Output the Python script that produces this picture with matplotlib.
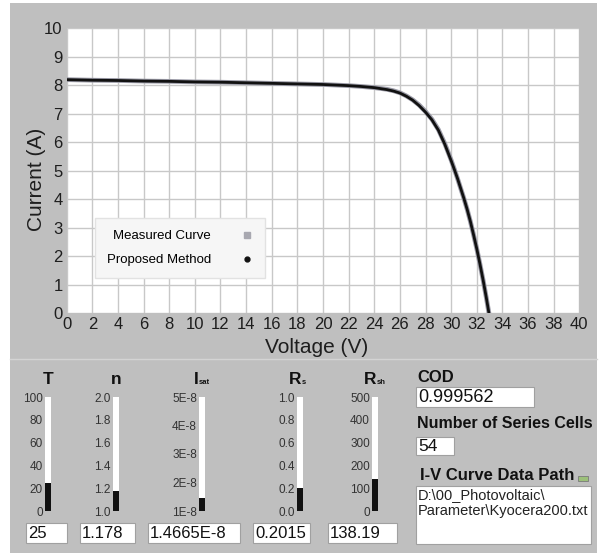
import matplotlib
matplotlib.use("Agg")
import matplotlib.pyplot as plt
from matplotlib.patches import Rectangle
from matplotlib.lines import Line2D

plt.rcParams['font.family'] = ['Liberation Sans', 'DejaVu Sans']

# I-V curve
voltage = [0, 2, 4, 6, 8, 10, 12, 14, 16, 18, 20, 22, 23, 24, 25, 25.5, 26, 26.5,
           27, 27.5, 28, 28.5, 29, 29.5, 30, 30.25, 30.5, 30.75, 31, 31.25, 31.5,
           31.75, 32, 32.25, 32.5, 32.75, 32.95]
measured_current = [8.19, 8.17, 8.16, 8.14, 8.13, 8.11, 8.10, 8.08, 8.06, 8.04, 8.02,
                    7.98, 7.95, 7.91, 7.85, 7.80, 7.73, 7.62, 7.48, 7.30, 7.07, 6.80,
                    6.44, 5.95, 5.37, 5.05, 4.72, 4.37, 4.02, 3.64, 3.22, 2.75, 2.26,
                    1.72, 1.15, 0.53, 0.0]
proposed_current = [8.19, 8.17, 8.16, 8.14, 8.13, 8.11, 8.10, 8.08, 8.06, 8.04, 8.02,
                    7.98, 7.95, 7.91, 7.84, 7.79, 7.72, 7.61, 7.47, 7.28, 7.05, 6.78,
                    6.42, 5.93, 5.35, 5.04, 4.72, 4.37, 4.02, 3.64, 3.22, 2.75, 2.26,
                    1.72, 1.15, 0.53, 0.0]

# extracted parameters shown on the gauges
gauge_names = [('T', ''), ('n', ''), ('I', 'sat'), ('R', 's'), ('R', 'sh')]
gauge_values = [25, 1.178, 1.4665e-8, 0.2015, 138.19]
gauge_texts = ['25', '1.178', '1.4665E-8', '0.2015', '138.19']
gauge_ticks = [[0, 20, 40, 60, 80, 100],
               [1.0, 1.2, 1.4, 1.6, 1.8, 2.0],
               [1e-8, 2e-8, 3e-8, 4e-8, 5e-8],
               [0.0, 0.2, 0.4, 0.6, 0.8, 1.0],
               [0, 100, 200, 300, 400, 500]]
gauge_ticklabels = [['0', '20', '40', '60', '80', '100'],
                    ['1.0', '1.2', '1.4', '1.6', '1.8', '2.0'],
                    ['1E-8', '2E-8', '3E-8', '4E-8', '5E-8'],
                    ['0.0', '0.2', '0.4', '0.6', '0.8', '1.0'],
                    ['0', '100', '200', '300', '400', '500']]
cod_value = '0.999562'
series_cells = '54'
data_path = ['D:\\00_Photovoltaic\\', 'Parameter\\Kyocera200.txt']

W, H = 601, 554
BG = '#bfbfbf'


def fig_box(x0, y0, x1, y1):
    return [x0 / W, 1 - y1 / H, (x1 - x0) / W, (y1 - y0) / H]


fig = plt.figure(figsize=(W / 100, H / 100), dpi=100)

# panel background drawn in pixel coordinates
bg = fig.add_axes([0, 0, 1, 1])
bg.set_xlim(0, W)
bg.set_ylim(H, 0)
bg.axis('off')
bg.add_patch(Rectangle((10, 3), 587, 550, facecolor=BG, edgecolor='none'))
bg.plot([10, 597], [359, 359], color='#d4d4d4', lw=1)

# main chart
ax = fig.add_axes(fig_box(66.7, 28, 579.3, 313.3))
ax.set_facecolor('white')
ax.plot(voltage, measured_current, color='#9a9aa6', lw=3.4, solid_capstyle='butt')
ax.plot(voltage, proposed_current, color='#111111', lw=2.0)
ax.set_xlim(0, 40)
ax.set_ylim(0, 10)
ax.set_xticks(range(0, 41, 2))
ax.set_yticks(range(0, 11))
ax.grid(True, color='#c8c8c8', lw=1)
ax.set_axisbelow(True)
for s in ax.spines.values():
    s.set_visible(False)
ax.tick_params(length=0, labelsize=12, pad=3, labelcolor='#1e1e1e')
ax.set_xlabel('Voltage (V)', fontsize=15, color='#1e1e1e')
ax.set_ylabel('Current (A)', fontsize=15, color='#1e1e1e')
ax.xaxis.set_label_coords(0.487, -0.088)
ax.yaxis.set_label_coords(-0.040, 0.47)

handles = [Line2D([], [], ls='none', marker='s', ms=4, color='#a8a8b0'),
           Line2D([], [], ls='none', marker='o', ms=3.5, color='#111111')]
leg = ax.legend(handles, ['Measured Curve', 'Proposed Method'], loc='upper left',
                bbox_to_anchor=(0.055, 0.334), borderaxespad=0, fontsize=9.5,
                markerfirst=False, handlelength=1.0, handletextpad=2.2,
                borderpad=0.9, labelspacing=0.9, fancybox=False, framealpha=1)
leg.get_frame().set_facecolor('#f6f6f6')
leg.get_frame().set_edgecolor('#e2e2e2')
leg.get_frame().set_linewidth(1)

# gauges
bar_left = [45, 113, 199, 297, 372]
box_spans = [(26, 67), (80, 135), (148, 240), (253, 310), (328, 397)]
for i in range(5):
    bl = bar_left[i]
    ticks = gauge_ticks[i]
    lo, hi = ticks[0], ticks[-1]
    gax = fig.add_axes(fig_box(bl, 397, bl + 6, 511))
    gax.set_facecolor('white')
    gax.bar(0, gauge_values[i] - lo, bottom=lo, width=1, color='#111111')
    gax.set_xlim(-0.5, 0.5)
    gax.set_ylim(lo, hi)
    gax.set_xticks([])
    gax.set_yticks(ticks, gauge_ticklabels[i])
    gax.tick_params(length=0, labelsize=8.5, pad=1.5, labelcolor='#333333')
    for s in gax.spines.values():
        s.set_visible(False)

    main, sub = gauge_names[i]
    cx = bl + 3
    if sub:
        shift = -3.5 if main == 'I' else 1.5
        bg.text(cx + shift, 379, main, ha='right', va='center', fontsize=12.5,
                fontweight='bold', color='#111111')
        bg.text(cx + shift + 0.5, 382, sub, ha='left', va='center', fontsize=5.5,
                fontweight='bold', color='#111111')
    else:
        bg.text(cx, 379, main, ha='center', va='center', fontsize=12.5,
                fontweight='bold', color='#111111')

    x0, x1 = box_spans[i]
    bg.add_patch(Rectangle((x0, 523), x1 - x0, 20, facecolor='white',
                           edgecolor='#a0a0a0', lw=0.8))
    bg.text(x0 + 2, 533.5, gauge_texts[i], ha='left', va='center', fontsize=12,
            color='#111111')

# right-hand indicators
bg.text(417, 378, 'COD', ha='left', va='center', fontsize=12, fontweight='bold',
        color='#111111')
bg.add_patch(Rectangle((416, 387), 118, 20, facecolor='white', edgecolor='#a0a0a0', lw=0.8))
bg.text(418, 397.5, cod_value, ha='left', va='center', fontsize=13, color='#111111')

bg.text(417, 423, 'Number of Series Cells', ha='left', va='center', fontsize=11.5,
        fontweight='bold', color='#111111')
bg.add_patch(Rectangle((416, 437), 38, 18, facecolor='white', edgecolor='#a0a0a0', lw=0.8))
bg.text(418, 446.5, series_cells, ha='left', va='center', fontsize=12.5, color='#111111')

bg.text(420, 475, 'I-V Curve Data Path', ha='left', va='center', fontsize=12,
        fontweight='bold', color='#111111')
bg.add_patch(Rectangle((578, 476), 10, 5, facecolor='#9cc07a', edgecolor='#7a7a7a', lw=0.6))
bg.add_patch(Rectangle((416, 486), 175, 58, facecolor='white', edgecolor='#a0a0a0', lw=0.8))
bg.text(418, 495, data_path[0], ha='left', va='center', fontsize=10.5, color='#222222')
bg.text(418, 511, data_path[1], ha='left', va='center', fontsize=10.5, color='#222222')

fig.savefig('out.png', dpi=100, facecolor='white')
